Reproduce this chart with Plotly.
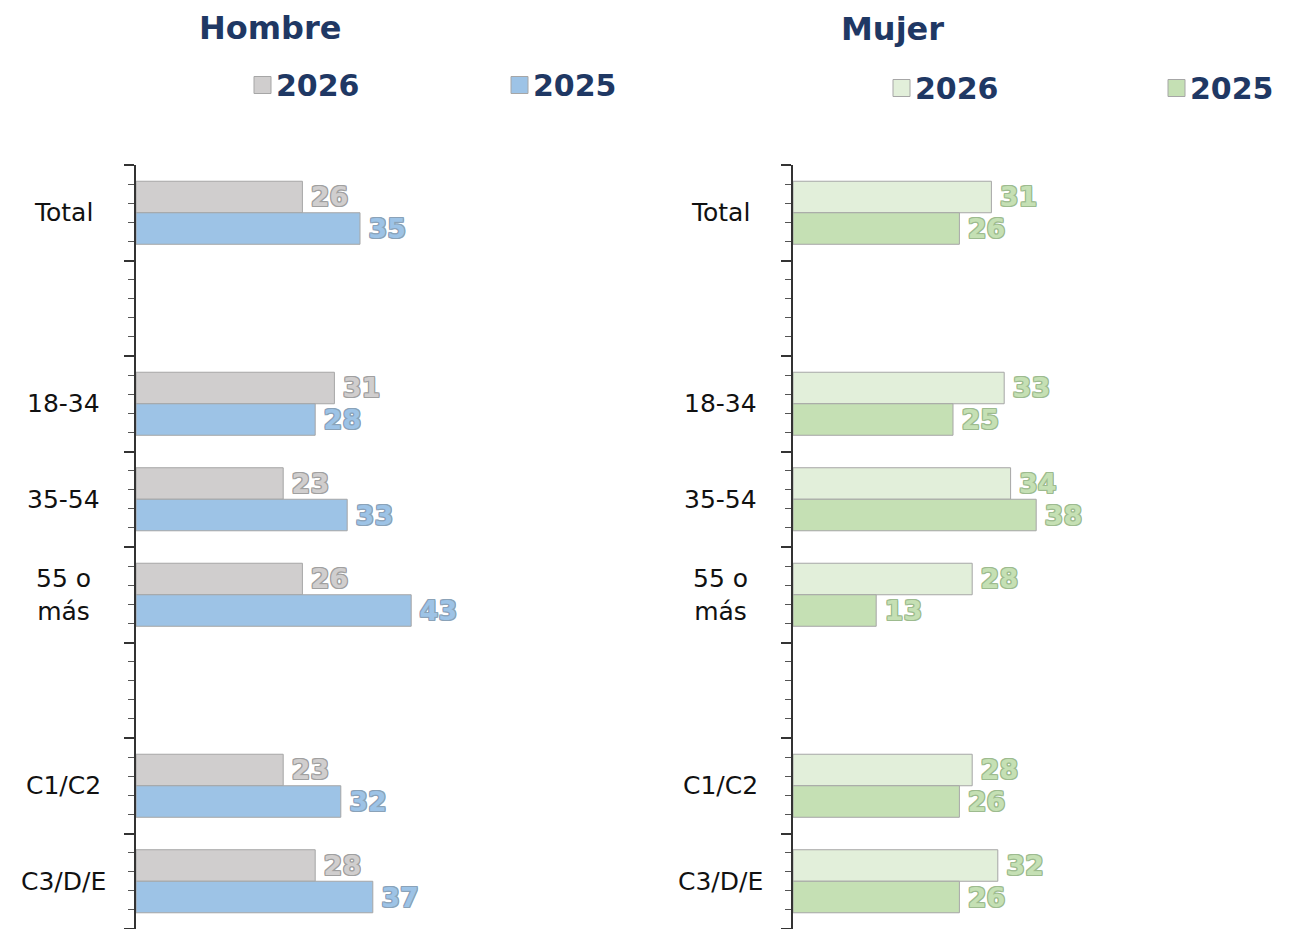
import plotly.graph_objects as go

# data
categories = ["Total", "", "18-34", "35-54", "55 o<br>más", "", "C1/C2", "C3/D/E"]
hombre_2026 = [26, None, 31, 23, 26, None, 23, 28]
hombre_2025 = [35, None, 28, 33, 43, None, 32, 37]
mujer_2026 = [31, None, 33, 34, 28, None, 28, 32]
mujer_2025 = [26, None, 25, 38, 13, None, 26, 26]
years = ["2026", "2025"]
panel_titles = ["Hombre", "Mujer"]

NAVY = "#1f3864"
GREY = "#d0cece"
BLUE = "#9dc3e6"
LIGHT_GREEN = "#e2efda"
GREEN = "#c5e0b4"
EDGE = "#a6a6a6"
FONT = "DejaVu Sans"

# page is offset by the 8px body margin, so work in page pixels and convert
PAGE_OFF = 8
W, H = 1285, 921
TOP = 165          # page px of the plot-area top
PLOT_H = 764
PX_PER_UNIT = 6.4
X_MAX = 75

pos = list(range(len(categories)))


def px_x(px: float) -> float:
    return (px - PAGE_OFF) / W


def px_y(py: float) -> float:
    return 1 + (TOP - py) / PLOT_H


def outline(color: str) -> str:
    return ", ".join(f"{dx}px {dy}px 0 {color}" for dx in (-1, 0, 1) for dy in (-1, 0, 1) if dx or dy)


def bar(values, name, fill, text_fill, text_edge, xa, ya):
    return go.Bar(
        x=values,
        y=pos,
        orientation="h",
        name=name,
        marker={"color": fill, "line": {"color": EDGE, "width": 1}},
        texttemplate="\u2009%{x}",
        textposition="outside",
        constraintext="none",
        cliponaxis=False,
        textfont={"family": FONT, "size": 27, "weight": 700, "color": text_fill, "shadow": outline(text_edge)},
        xaxis=xa,
        yaxis=ya,
        showlegend=False,
        hoverinfo="skip",
    )


fig = go.Figure()
fig.add_trace(bar(hombre_2026, years[0], GREY, GREY, "#a0a0a0", "x", "y"))
fig.add_trace(bar(hombre_2025, years[1], BLUE, BLUE, "#8aa2b8", "x", "y"))
fig.add_trace(bar(mujer_2026, years[0], LIGHT_GREEN, GREEN, "#9dbb8f", "x2", "y2"))
fig.add_trace(bar(mujer_2025, years[1], GREEN, GREEN, "#9dbb8f", "x2", "y2"))

width = X_MAX * PX_PER_UNIT / W

xcfg = dict(range=[0, X_MAX], visible=False, fixedrange=True)
ycfg = dict(
    range=[len(categories) - 0.5, -0.5],
    tick0=-0.5,
    dtick=1,
    ticks="outside",
    ticklen=10,
    tickwidth=1.5,
    tickcolor="#333",
    showticklabels=False,
    showline=True,
    linecolor="#333",
    linewidth=1.5,
    showgrid=False,
    zeroline=False,
    fixedrange=True,
    minor={"tick0": -0.5, "dtick": 0.2, "ticks": "outside", "ticklen": 6, "tickwidth": 1.2, "tickcolor": "#555", "showgrid": False},
)

fig.update_layout(
    width=W,
    height=H,
    margin={"l": 0, "r": 0, "t": TOP - PAGE_OFF, "b": 0},
    paper_bgcolor="white",
    plot_bgcolor="white",
    barmode="group",
    bargap=0.34,
    bargroupgap=0,
    showlegend=False,
    xaxis=dict(domain=[px_x(136), px_x(136) + width], anchor="y", **xcfg),
    yaxis=dict(domain=[0, 1], anchor="x", **ycfg),
    xaxis2=dict(domain=[px_x(793), px_x(793) + width], anchor="y2", **xcfg),
    yaxis2=dict(domain=[0, 1], anchor="x2", **ycfg),
)

# panel titles
for title, cx, py in zip(panel_titles, [270, 892], [28, 29]):
    fig.add_annotation(
        text=f"<b>{title}</b>",
        x=px_x(cx), y=px_y(py), xref="paper", yref="paper",
        xanchor="center", yanchor="middle", showarrow=False, borderpad=0,
        font={"family": FONT, "size": 32, "color": NAVY},
    )

# legend keys: square + year text for each panel
legend_keys = [
    (254, 85, GREY, years[0]), (511, 85, BLUE, years[1]),
    (893, 88, LIGHT_GREEN, years[0]), (1168, 88, GREEN, years[1]),
]
for kx, ky, color, label in legend_keys:
    fig.add_shape(
        type="rect", xref="paper", yref="paper",
        x0=px_x(kx), x1=px_x(kx + 17), y0=px_y(ky + 8.5), y1=px_y(ky - 8.5),
        fillcolor=color, line={"color": EDGE, "width": 1},
    )
    fig.add_annotation(
        text=f"<b>{label}</b>",
        x=px_x(kx + 20), y=px_y(ky), xref="paper", yref="paper",
        xanchor="left", yanchor="middle", showarrow=False,
        font={"family": FONT, "size": 30, "color": NAVY},
    )

# category labels, centred left of each axis
for ya, cx in (("y", 63), ("y2", 720)):
    for i, cat in enumerate(categories):
        if not cat:
            continue
        fig.add_annotation(
            text=cat,
            x=px_x(cx), y=i, xref="paper", yref=ya,
            xanchor="center", yanchor="middle", align="center", showarrow=False,
            font={"family": FONT, "size": 25, "color": "#111"},
        )

fig.write_html("out.html")
